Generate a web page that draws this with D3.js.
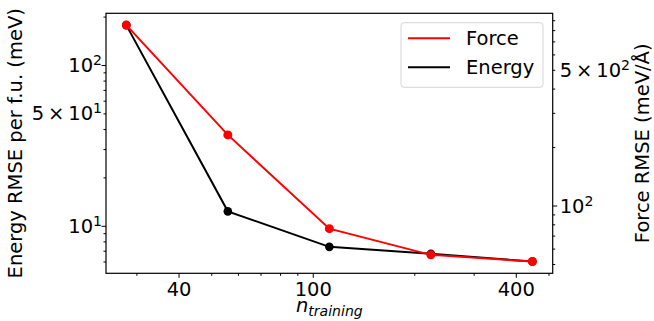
<!DOCTYPE html>
<html>
<head>
<meta charset="utf-8">
<script src="https://cdn.jsdelivr.net/npm/d3@7"></script>
<style>
  body { margin: 0; background: #fff; }
  text { font-family: "DejaVu Sans", sans-serif; fill: #000; }
</style>
</head>
<body>
<div id="chart"></div>
<script>
// data
var nTraining = [28, 56, 112, 224, 448];
var energyRMSE = [177, 12.3, 7.4, 6.7, 6.0];
var forceRMSE = [849, 231, 76, 55.7, 51.5];
var seriesNames = ["Force", "Energy"];

// ticks
var xMajor = [40, 100, 400];
var xMinor = [30, 50, 60, 70, 80, 90, 200, 300, 500];
var eLabelled = [10, 50, 100];
var eLabels = [["10", "1"], ["5\u2009\u00d7\u200910", "1"], ["10", "2"]];
var eMinor = [6, 7, 8, 9, 20, 30, 40, 60, 70, 80, 90, 200];
var fLabelled = [100, 500];
var fLabels = [["10", "2"], ["5\u2009\u00d7\u200910", "2"]];
var fMinor = [50, 60, 70, 80, 90, 200, 300, 400, 600, 700, 800, 900];

var W = 654, H = 321;
var margin = {top: 13.3, right: 101.3, bottom: 47.7, left: 106},
    width = W - margin.left - margin.right,
    height = H - margin.top - margin.bottom;

var svg = d3.select("#chart")
    .append("svg")
    .attr("width", W)
    .attr("height", H)
    .append("g")
    .attr("transform", `translate(${margin.left},${margin.top})`);

// matplotlib style 5% padding in log space
function logPad(vals) {
    var ext = d3.extent(vals).map(Math.log10);
    var p = (ext[1] - ext[0]) * 0.05;
    return [Math.pow(10, ext[0] - p), Math.pow(10, ext[1] + p)];
}

var xScale = d3.scaleLog().domain(logPad(nTraining)).range([0, width]);
var yE = d3.scaleLog().domain(logPad(energyRMSE)).range([height, 0]);
var yF = d3.scaleLog().domain(logPad(forceRMSE)).range([height, 0]);

var fs = 19.5;

function styleAxis(g) {
    g.select(".domain").remove();
    g.selectAll(".tick line").attr("stroke", "#000").attr("stroke-width", 1);
}

// x axis
svg.append("g").attr("transform", `translate(0,${height})`)
    .call(d3.axisBottom(xScale).tickValues(xMinor).tickSize(2.5).tickFormat(""))
    .call(styleAxis);
svg.append("g").attr("transform", `translate(0,${height})`)
    .call(d3.axisBottom(xScale).tickValues(xMajor).tickSize(4.5).tickPadding(4).tickFormat(d3.format("d")))
    .call(styleAxis)
    .call(g => g.selectAll("text").attr("font-size", fs).attr("font-family", "DejaVu Sans").attr("fill", "#000"));

// left axis (energy)
svg.append("g")
    .call(d3.axisLeft(yE).tickValues(eMinor.concat([50])).tickSize(2.5).tickFormat(""))
    .call(styleAxis);
svg.append("g")
    .call(d3.axisLeft(yE).tickValues([10, 100]).tickSize(4.5).tickFormat(""))
    .call(styleAxis);

// right axis (force)
svg.append("g").attr("transform", `translate(${width},0)`)
    .call(d3.axisRight(yF).tickValues(fMinor.concat([500])).tickSize(2.5).tickFormat(""))
    .call(styleAxis);
svg.append("g").attr("transform", `translate(${width},0)`)
    .call(d3.axisRight(yF).tickValues([100]).tickSize(4.5).tickFormat(""))
    .call(styleAxis);

// superscript tick labels
function powLabel(sel, x, y, parts, anchor) {
    var t = sel.append("text")
        .attr("x", x).attr("y", y)
        .attr("dy", "0.36em")
        .attr("text-anchor", anchor)
        .attr("font-size", fs);
    t.append("tspan").text(parts[0]);
    t.append("tspan").attr("dy", "-0.5em").attr("font-size", fs * 0.72).text(parts[1]);
}
eLabelled.forEach((v, i) => powLabel(svg, -4, yE(v), eLabels[i], "end"));
fLabelled.forEach((v, i) => powLabel(svg, width + 7, yF(v), fLabels[i], "start"));

// frame
svg.append("rect")
    .attr("width", width).attr("height", height)
    .attr("fill", "none").attr("stroke", "#000").attr("stroke-width", 1.2);

// lines
var lineE = d3.line().x((d, i) => xScale(nTraining[i])).y(d => yE(d));
var lineF = d3.line().x((d, i) => xScale(nTraining[i])).y(d => yF(d));

svg.append("path").datum(energyRMSE)
    .attr("fill", "none").attr("stroke", "black").attr("stroke-width", 2)
    .attr("d", lineE);
svg.selectAll(".ptE").data(energyRMSE).enter().append("circle")
    .attr("cx", (d, i) => xScale(nTraining[i])).attr("cy", d => yE(d))
    .attr("r", 4.3).attr("fill", "black");

svg.append("path").datum(forceRMSE)
    .attr("fill", "none").attr("stroke", "red").attr("stroke-width", 2)
    .attr("d", lineF);
svg.selectAll(".ptF").data(forceRMSE).enter().append("circle")
    .attr("cx", (d, i) => xScale(nTraining[i])).attr("cy", d => yF(d))
    .attr("r", 4.5).attr("fill", "red");

// axis titles
var xl = svg.append("text")
    .attr("x", width / 2).attr("y", height + 38.5)
    .attr("text-anchor", "middle").attr("font-size", fs).attr("font-style", "italic");
xl.append("tspan").text("n");
xl.append("tspan").attr("dy", "0.3em").attr("font-size", fs * 0.72).text("training");

svg.append("text")
    .attr("transform", `translate(${-margin.left + 22},${height / 2}) rotate(-90)`)
    .attr("text-anchor", "middle").attr("font-size", fs)
    .text("Energy RMSE per f.u. (meV)");

svg.append("text")
    .attr("transform", `translate(${width + 96},${height / 2}) rotate(-90)`)
    .attr("text-anchor", "middle").attr("font-size", fs)
    .text("Force RMSE (meV/\u00c5)");

// legend
var legend = svg.append("g").attr("transform", `translate(${401 - margin.left},${22.7 - margin.top})`);
legend.append("rect")
    .attr("width", 142).attr("height", 64.6).attr("rx", 3)
    .attr("fill", "white").attr("fill-opacity", 0.8)
    .attr("stroke", "#d5d5d5").attr("stroke-width", 1);
var legendColors = ["red", "black"];
seriesNames.forEach((name, i) => {
    var y = 15.6 + i * 29;
    legend.append("line")
        .attr("x1", 7).attr("x2", 49).attr("y1", y).attr("y2", y)
        .attr("stroke", legendColors[i]).attr("stroke-width", 2);
    legend.append("text")
        .attr("x", 65).attr("y", y).attr("dy", "0.36em")
        .attr("font-size", fs).text(name);
});
</script>
</body>
</html>
